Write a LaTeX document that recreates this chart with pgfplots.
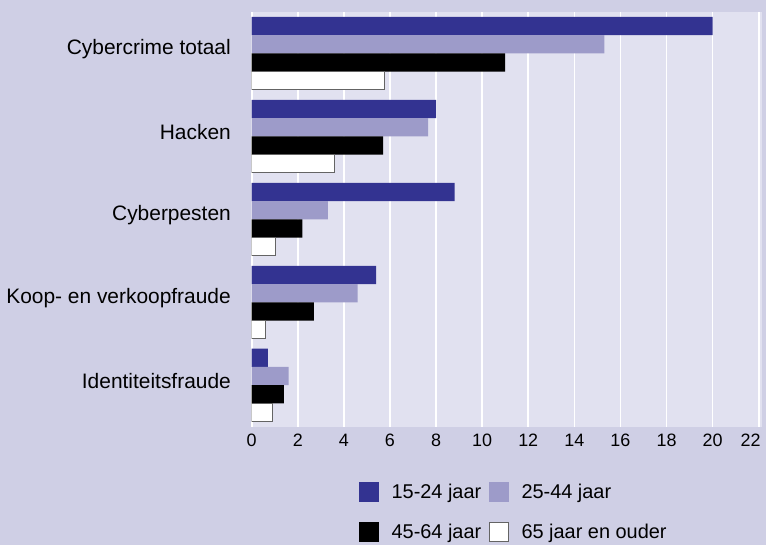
\documentclass[border=0pt]{standalone}
\usepackage{fontspec}
\setmainfont{Liberation Sans}
\usepackage{pgfplots}
\pgfplotsset{compat=1.18}
\definecolor{outerbg}{HTML}{CFCFE5}
\definecolor{plotbg}{HTML}{E1E1F0}
\definecolor{dblue}{HTML}{333391}
\definecolor{lpurp}{HTML}{9D9BC9}
\definecolor{edgegray}{HTML}{646464}
\pgfplotsset{
  sqleg/.style={legend image code/.code={\fill[##1] (0bp,-10bp) rectangle (20bp,10bp);}},
  sqlegdraw/.style={legend image code/.code={\filldraw[##1] (0.5bp,-9.5bp) rectangle (19.5bp,9.5bp);}},
}
\begin{document}
\begin{tikzpicture}
\useasboundingbox (0,0) rectangle (766bp,545bp);
\fill[outerbg] (0,0) rectangle (766bp,545bp);
\begin{axis}[
  at={(251.7bp,118.3bp)}, anchor=south west,
  scale only axis, width=510bp, height=414.7bp,
  xmin=0, xmax=22.13, ymin=-0.5, ymax=4.5, y dir=reverse,
  xtick={0,2,...,20}, ytick={0,1,2,3,4},
  extra x ticks={22},
  extra x tick style={xticklabel style={xshift=-8bp}},
  yticklabels={Cybercrime totaal,Hacken,Cyberpesten,Koop- en verkoopfraude,Identiteitsfraude},
  axis background/.style={fill=plotbg},
  axis line style={draw=none},
  major tick length=0pt,
  xmajorgrids, grid style={white, line width=1.6bp},
  /pgf/number format/assume math mode=true,
  xticklabel style={font=\fontsize{18}{18}\selectfont, inner sep=0pt, yshift=-6.8bp},
  yticklabel style={font=\fontsize{21}{21}\selectfont, inner sep=0pt, xshift=-20.7bp, yshift=4bp},
  bar width=0.22,
  legend columns=2,
  legend cell align=left,
  legend style={at={(0.2098,-0.1333)}, anchor=north west, draw=none, fill=none,
    inner sep=0pt, font=\fontsize{20}{20}\selectfont, nodes={inner sep=0pt},
    row sep=20bp, column sep=12.7bp,
    /tikz/every even column/.append style={column sep=7.5bp}},
]
\addplot[xbar, bar shift=-0.33, fill=dblue, draw=none, sqleg]
  coordinates {(20.0,0) (8.0,1) (8.8,2) (5.4,3) (0.7,4)};
\addplot[xbar, bar shift=-0.11, fill=lpurp, draw=none, sqleg]
  coordinates {(15.3,0) (7.65,1) (3.3,2) (4.6,3) (1.6,4)};
\addplot[xbar, bar shift=0.11, fill=black, draw=none, sqleg]
  coordinates {(11.0,0) (5.7,1) (2.2,2) (2.7,3) (1.4,4)};
\addplot[xbar, bar shift=0.33, fill=white, draw=edgegray, line width=1bp, sqlegdraw]
  coordinates {(5.75,0) (3.6,1) (1.05,2) (0.6,3) (0.9,4)};
\legend{15-24 jaar,25-44 jaar,45-64 jaar,65 jaar en ouder}
\end{axis}
\end{tikzpicture}
\end{document}
